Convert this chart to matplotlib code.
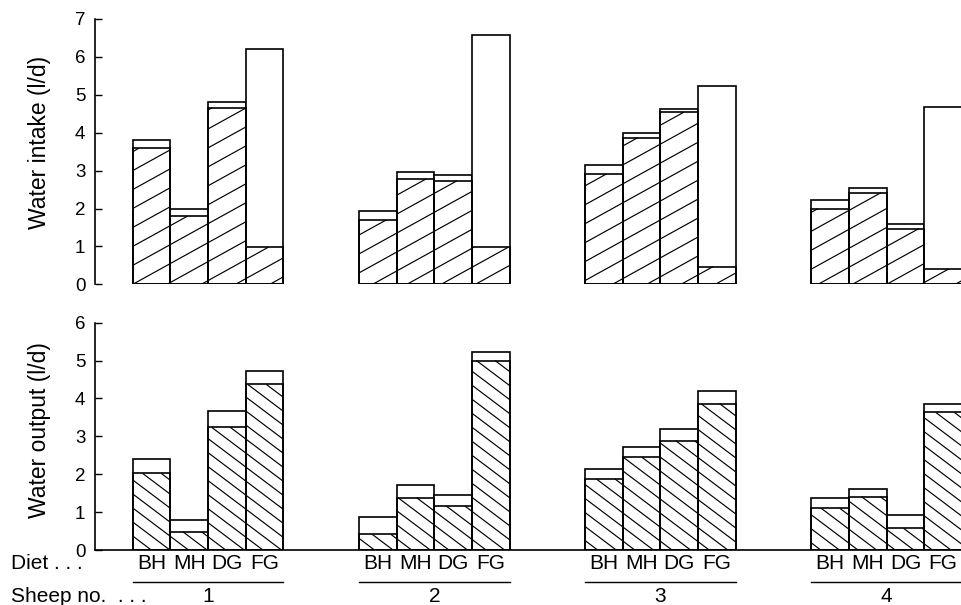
import numpy as np
import matplotlib
matplotlib.use("Agg")
import matplotlib.pyplot as plt
import matplotlib.transforms as mtransforms
from matplotlib.collections import LineCollection
from matplotlib.lines import Line2D

plt.rcParams['font.family'] = ['Liberation Sans', 'DejaVu Sans']

diets = ['BH', 'MH', 'DG', 'FG']
sheep = ['1', '2', '3', '4']

# Water intake (l/d) per sheep, per diet: total bar and hatched (lower) part
intake_total = [[3.82, 1.99, 4.80, 6.20],
                [1.93, 2.96, 2.89, 6.58],
                [3.15, 4.00, 4.63, 5.23],
                [2.22, 2.55, 1.59, 4.68]]
intake_hatched = [[3.59, 1.80, 4.66, 0.98],
                  [1.70, 2.78, 2.73, 0.98],
                  [2.91, 3.87, 4.54, 0.47],
                  [2.00, 2.42, 1.47, 0.41]]

# Water output (l/d) per sheep, per diet: total bar and hatched (lower) part
output_total = [[2.40, 0.78, 3.67, 4.73],
                [0.86, 1.72, 1.45, 5.22],
                [2.14, 2.73, 3.19, 4.20],
                [1.38, 1.61, 0.92, 3.85]]
output_hatched = [[2.02, 0.48, 3.24, 4.37],
                  [0.41, 1.38, 1.16, 5.00],
                  [1.87, 2.45, 2.88, 3.86],
                  [1.10, 1.41, 0.57, 3.63]]

GROUP_STEP = 6          # 4 bars + gap of 2 bar widths
BAR_W = 1.0
EDGE_LW = 1.2
HATCH_LW = 0.85


def bar_positions(g):
    return [g * GROUP_STEP + i + 0.5 for i in range(len(diets))]


def hatch_rect(ax, x0, w, h, slope, spacing):
    """Fill rectangle (x0, 0, w, h) with parallel lines y = slope*x + c."""
    if h <= 0:
        return
    x1 = x0 + w
    cmin = min(-slope * x0, -slope * x1)
    cmax = max(h - slope * x0, h - slope * x1)
    segs = []
    for k in np.arange(np.floor(cmin / spacing), np.ceil(cmax / spacing) + 1):
        c = k * spacing
        xa, xb = (0 - c) / slope, (h - c) / slope
        lo = max(x0, min(xa, xb))
        hi = min(x1, max(xa, xb))
        if hi - lo > 1e-3:
            segs.append([(lo, slope * lo + c), (hi, slope * hi + c)])
    lc = LineCollection(segs, colors='black', linewidths=HATCH_LW, zorder=2.5)
    ax.add_collection(lc, autolim=False)


def draw_panel(ax, totals, lowers, slope, spacing):
    for g in range(len(sheep)):
        xs = bar_positions(g)
        ax.bar(xs, totals[g], width=BAR_W, color='white', edgecolor='black',
               linewidth=EDGE_LW, zorder=2)
        for x, h in zip(xs, lowers[g]):
            hatch_rect(ax, x - BAR_W / 2, BAR_W, h, slope, spacing)
        ax.bar(xs, lowers[g], width=BAR_W, facecolor='none', edgecolor='black',
               linewidth=EDGE_LW, zorder=3)


fig = plt.figure(figsize=(9.62, 6.05), dpi=100)
left = 95 / 962
width = 867 / 962
ax1 = fig.add_axes([left, 0.530, width, 0.4386])
ax2 = fig.add_axes([left, 0.0909, width, 0.3757])

draw_panel(ax1, intake_total, intake_hatched, 0.55, 0.50)
draw_panel(ax2, output_total, output_hatched, -0.75, 0.37)

xmax = (len(sheep) - 1) * GROUP_STEP + len(diets)
for ax, ymax, label, ly in [(ax1, 7, 'Water intake (l/d)', 0.533),
                            (ax2, 6, 'Water output (l/d)', 0.528)]:
    ax.set_xlim(-1, xmax)
    ax.set_ylim(0, ymax)
    ax.set_xticks([])
    ax.set_yticks(range(ymax + 1))
    ax.spines['top'].set_visible(False)
    ax.spines['right'].set_visible(False)
    ax.spines['left'].set_bounds(0, ymax)
    ax.spines['left'].set_linewidth(1.2)
    ax.spines['bottom'].set_linewidth(1.2)
    ax.tick_params(axis='y', direction='in', length=5, width=1.0,
                   labelsize=13.5, pad=7)
    ax.set_ylabel(label, fontsize=16.5)
    ax.yaxis.set_label_coords(-0.051, ly)
    ax.patch.set_visible(False)

ax1.spines['bottom'].set_visible(False)

# Diet / sheep annotations below the lower panel
trans = mtransforms.blended_transform_factory(ax2.transData, fig.transFigure)
fig.text(0.0115, 0.0590, 'Diet . . .', fontsize=15, va='baseline')
fig.text(0.0115, 0.0045, 'Sheep no.  . . .', fontsize=15, va='baseline')
for g, s in enumerate(sheep):
    xs = bar_positions(g)
    for x, d in zip(xs, diets):
        ax2.text(x, 0.0600, d, transform=trans, ha='center', va='baseline',
                 fontsize=15, clip_on=False)
    x_lo = xs[0] - BAR_W / 2
    x_hi = xs[-1] + BAR_W / 2
    ax2.add_line(Line2D([x_lo, x_hi], [0.0385, 0.0385], transform=trans,
                        color='black', linewidth=1.0, clip_on=False))
    ax2.text((x_lo + x_hi) / 2, 0.0045, s, transform=trans, ha='center',
             va='baseline', fontsize=15, clip_on=False)

fig.savefig('out.png', dpi=100)
